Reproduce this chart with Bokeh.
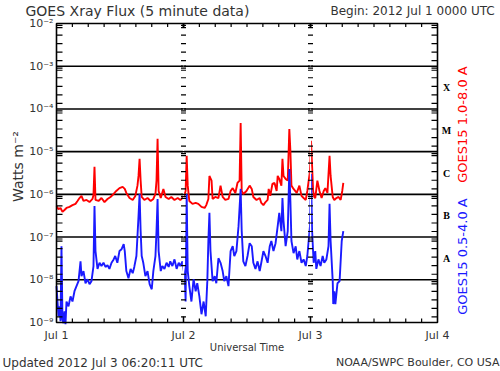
import numpy as np
from bokeh.plotting import figure
from bokeh.models import Label, Range1d
from bokeh.core.properties import value
from bokeh.embed import file_html
from bokeh.resources import INLINE

# ---- data: hours since 2012 Jul 1 00:00 UTC, flux in W m^-2 ----
red_hours = [0.0, 0.38, 0.76, 1.13, 1.51, 1.89, 2.46, 3.02, 3.59, 3.97, 4.35, 4.72, 5.10, 5.67, 6.24, 6.80,
             6.99, 7.18, 7.37, 7.94, 8.50, 9.07, 9.64, 10.2, 10.8, 11.3, 11.9, 12.5, 12.9, 13.2, 13.8, 14.4,
             14.9, 15.3, 15.5, 15.7, 15.9, 16.1, 16.6, 17.2, 17.8, 18.3, 18.7, 18.9, 19.1, 19.3, 19.7, 20.2,
             20.6, 21.2, 21.7, 22.3, 22.9, 23.4, 24.0, 24.4, 24.6, 24.8, 25.1, 25.7, 26.3, 26.8, 27.4, 28.0,
             28.3, 28.7, 28.9, 29.3, 29.5, 30.0, 30.6, 31.0, 31.4, 31.9, 32.5, 32.9, 33.3, 33.8, 34.2, 34.6,
             34.8, 35.0, 35.3, 35.9, 36.5, 36.9, 37.2, 37.8, 38.4, 38.7, 39.1, 39.5, 39.9, 40.1, 40.4, 40.8,
             41.2, 41.6, 41.8, 42.1, 42.5, 42.7, 42.9, 43.3, 43.7, 44.0, 44.2, 44.4, 44.8, 45.4, 45.9, 46.3,
             46.7, 47.1, 47.4, 47.9, 48.1, 48.3, 48.5, 48.7, 48.9, 49.3, 49.7, 50.1, 50.5, 50.8, 51.2, 51.6,
             51.8, 52.2, 52.5, 52.9, 53.3, 53.7, 54.0, 54.2]
red_flux = [5.3e-7, 4.5e-7, 4.8e-7, 3.9e-7, 4.3e-7, 4.8e-7, 5.1e-7, 5.6e-7, 6.0e-7, 7.0e-7, 8.2e-7, 9.2e-7,
            7.0e-7, 7.4e-7, 6.6e-7, 7.8e-7, 9.7e-7, 4.4e-6, 7.4e-7, 7.0e-7, 8.2e-7, 6.6e-7, 7.8e-7, 8.7e-7,
            1.02e-6, 1.2e-6, 1.4e-6, 1.5e-6, 1.34e-6, 1.08e-6, 8.2e-7, 7.4e-7, 9.2e-7, 1.6e-6, 2.7e-6, 6.8e-6,
            2.1e-6, 8.7e-7, 7.4e-7, 8.2e-7, 7.0e-7, 7.8e-7, 1.02e-6, 2.1e-6, 2.0e-5, 1.2e-6, 8.2e-7, 1.34e-6,
            8.7e-7, 7.8e-7, 8.7e-7, 7.4e-7, 8.2e-7, 7.4e-7, 8.7e-7, 1.2e-6, 8.0e-6, 1.6e-6, 7.0e-7, 6.0e-7,
            6.3e-7, 6.0e-7, 5.1e-7, 4.8e-7, 5.6e-7, 7.8e-7, 2.7e-6, 2.1e-6, 7.8e-7, 8.7e-7, 8.2e-7, 1.6e-6,
            8.7e-7, 7.4e-7, 7.8e-7, 1.2e-6, 1.4e-6, 1.08e-6, 1.85e-6, 2.1e-6, 4.7e-5, 1.2e-6, 1.02e-6, 1.2e-6,
            1.6e-6, 1.34e-6, 8.7e-7, 7.4e-7, 8.2e-7, 6.3e-7, 5.6e-7, 6.6e-7, 7.4e-7, 1.34e-6, 9.2e-7, 1.75e-6,
            1.85e-6, 1.2e-6, 2.7e-6, 2.3e-6, 1.6e-6, 6.8e-6, 2.7e-6, 2.3e-6, 2.1e-6, 3.4e-5, 1.04e-5, 1.6e-6,
            1.34e-6, 1.08e-6, 1.6e-6, 9.2e-7, 8.2e-7, 7.4e-7, 1.2e-6, 3.5e-6, 1.8e-5, 4.6e-6, 1.2e-6, 8.7e-7,
            8.2e-7, 2.1e-6, 1.2e-6, 8.2e-7, 1.2e-6, 1.4e-6, 1.08e-6, 8.0e-6, 2.7e-6, 8.7e-7, 7.4e-7, 8.2e-7,
            8.7e-7, 7.4e-7, 1.2e-6, 1.85e-6]

blue_hours = [0.0, 0.19, 0.38, 0.57, 0.76, 0.94, 1.13, 1.32, 1.51, 1.70, 1.89, 2.27, 2.65, 3.02, 3.40, 3.78,
              4.16, 4.54, 4.72, 5.10, 5.48, 5.86, 6.24, 6.61, 6.99, 7.18, 7.37, 7.75, 8.13, 8.50, 8.88, 9.26,
              9.64, 10.0, 10.4, 10.8, 11.1, 11.5, 11.9, 12.3, 12.7, 12.9, 13.2, 13.6, 14.0, 14.4, 14.7, 15.1,
              15.3, 15.5, 15.7, 15.9, 16.1, 16.4, 16.8, 17.2, 17.6, 18.0, 18.3, 18.7, 18.9, 19.1, 19.3, 19.7,
              20.0, 20.4, 20.8, 21.2, 21.5, 21.9, 22.3, 22.7, 23.1, 23.4, 23.8, 24.2, 24.4, 24.6, 24.8, 25.1,
              25.5, 25.9, 26.3, 26.6, 27.0, 27.4, 27.8, 28.2, 28.5, 28.7, 28.9, 29.1, 29.5, 29.9, 30.2, 30.6,
              31.0, 31.4, 31.7, 32.1, 32.5, 32.9, 33.3, 33.6, 34.0, 34.4, 34.8, 35.0, 35.3, 35.7, 36.1, 36.5,
              36.9, 37.2, 37.6, 38.0, 38.4, 38.7, 39.1, 39.5, 39.9, 40.3, 40.6, 41.0, 41.4, 41.8, 42.1, 42.5,
              42.7, 42.9, 43.3, 43.7, 44.0, 44.2, 44.4, 44.8, 45.2, 45.5, 45.9, 46.3, 46.7, 47.1, 47.4, 47.9,
              48.1, 48.3, 48.6, 48.9, 49.1, 49.5, 49.9, 50.3, 50.6, 51.0, 51.4, 51.6, 51.8, 52.2, 52.3, 52.5,
              52.7, 53.1, 53.5, 53.9, 54.2]
blue_flux = [7.1e-9, 3.1e-9, 1.4e-9, 2.4e-9, 1.07e-9, 6.1e-8, 1.19e-9, 9.6e-10, 1.83e-9, 9.1e-10, 3.1e-9, 2.4e-9,
             4.1e-9, 3.1e-9, 5.4e-9, 7.1e-9, 9.3e-9, 2.7e-8, 1.22e-8, 1.6e-8, 8.3e-9, 1.03e-8, 7.9e-9, 9.3e-9,
             2.1e-8, 5.3e-7, 4.7e-8, 1.8e-8, 2.5e-8, 2.1e-8, 2.5e-8, 2.0e-8, 2.2e-8, 1.8e-8, 2.5e-8, 3.0e-8,
             3.6e-8, 2.5e-8, 4.7e-8, 5.2e-8, 6.8e-8, 4.7e-8, 1.6e-8, 1.09e-8, 1.8e-8, 1.43e-8, 2.0e-8, 3.6e-8,
             1.05e-7, 3.1e-7, 1.02e-6, 1.38e-7, 3.6e-8, 2.5e-8, 1.22e-8, 1.6e-8, 7.9e-9, 6.0e-9, 1.6e-8, 3.6e-8,
             1.38e-7, 7.8e-7, 4.7e-8, 1.6e-8, 2.1e-8, 1.8e-8, 2.5e-8, 2.0e-8, 2.7e-8, 2.1e-8, 3.0e-8, 1.8e-8,
             2.5e-8, 2.1e-8, 2.7e-8, 1.22e-8, 3.1e-9, 1.02e-6, 1.6e-8, 7.1e-9, 3.1e-9, 1.03e-8, 5.4e-9, 8.3e-9,
             4.1e-9, 1.56e-9, 3.1e-9, 1.4e-9, 9.3e-9, 8.1e-8, 3.7e-7, 4.7e-8, 9.3e-9, 1.22e-8, 8.3e-9, 3.2e-8,
             2.5e-8, 1.6e-8, 9.3e-9, 1.22e-8, 7.1e-9, 4.7e-8, 6.1e-8, 3.6e-8, 4.7e-8, 1.8e-7, 1.34e-6, 1.38e-7,
             2.7e-8, 2.1e-8, 3.6e-8, 7.2e-8, 6.1e-8, 2.5e-8, 1.8e-8, 2.7e-8, 1.6e-8, 2.5e-8, 4.7e-8, 3.6e-8,
             2.5e-8, 6.1e-8, 8.1e-8, 4.7e-8, 7.2e-8, 1.8e-7, 3.7e-7, 1.38e-7, 8.2e-7, 2.4e-7, 6.1e-8, 1.38e-7,
             3.9e-6, 7.0e-7, 8.1e-8, 4.2e-8, 6.1e-8, 3.0e-8, 4.7e-8, 2.5e-8, 3.0e-8, 2.1e-8, 3.6e-8, 1.8e-7,
             3.0e-6, 1.38e-7, 2.5e-8, 4.7e-8, 1.8e-8, 3.0e-8, 2.1e-8, 3.6e-8, 2.5e-8, 3.0e-8, 6.1e-8, 6.0e-7,
             8.1e-8, 9.3e-9, 2.7e-9, 5.4e-9, 2.7e-9, 8.3e-9, 9.3e-9, 8.1e-8, 1.38e-7]

day_ticks = [0, 24, 48, 72]
day_labels = ["Jul 1", "Jul 2", "Jul 3", "Jul 4"]
decades = [1e-9, 1e-8, 1e-7, 1e-6, 1e-5, 1e-4, 1e-3, 1e-2]
decade_labels = ["10\u207b\u2079", "10\u207b\u2078", "10\u207b\u2077", "10\u207b\u2076",
                 "10\u207b\u2075", "10\u207b\u2074", "10\u207b\u00b3", "10\u207b\u00b2"]
class_letters = ["A", "B", "C", "M", "X"]
class_levels = [1e-8, 1e-7, 1e-6, 1e-5, 1e-4]

title_text = "GOES Xray Flux (5 minute data)"
begin_text = "Begin:  2012 Jul 1 0000 UTC"
updated_text = "Updated 2012 Jul 3 06:20:11 UTC"
source_text = "NOAA/SWPC Boulder, CO USA"
y_title = "Watts m\u207b\u00b2"
x_title = "Universal Time"
red_name = "GOES15 1.0-8.0 A"
blue_name = "GOES15 0.5-4.0 A"

RED = "#ff0000"
BLUE = "#1a1aff"
FONT = "DejaVu Sans"
INK = "#333333"

# ---- layout (pixels of the 500x371 canvas) ----
W, H = 500, 371
FL, FR, FT, FB = 56, 437, 23, 322          # plot box edges
T0, T1 = day_ticks[0], day_ticks[-1]
LOG0, LOG1 = np.log10(decades[0]), np.log10(decades[-1])
HPP = (T1 - T0) / (FR - FL)                # hours per pixel
DPP = (LOG1 - LOG0) / (FB - FT)            # decades per pixel


def X(px):
    return T0 + (px - FL) * HPP


def Y(py):
    return 10 ** (LOG1 - (py - FT) * DPP)


def hx(npx):
    return npx * HPP


def fy(npx):
    return 10 ** (npx * DPP)


minor_fracs = [0.045, 0.095, 0.27, 0.47, 0.67, 0.87]
minor_vals = [d * 10 ** (-f) for d in decades[1:] for f in minor_fracs]
hour_ticks = [h for h in range(T0, T1 + 1, 3) if h % 24]

p = figure(width=W, height=H, x_range=Range1d(X(0), X(W)), y_range=Range1d(Y(H), Y(0)),
           y_axis_type="log", x_axis_location=None, y_axis_location=None,
           output_backend="svg", toolbar_location=None, min_border=0)
p.grid.visible = False
p.outline_line_color = None
p.background_fill_color = "white"
p.border_fill_color = "white"

# decade grid lines
inner = decades[1:-1]
p.segment(x0=[T0] * len(inner), x1=[T1] * len(inner), y0=inner, y1=inner, line_color="black", line_width=1.6)

# data
p.line(red_hours, red_flux, line_color=RED, line_width=1.9)
p.line(blue_hours, blue_flux, line_color=BLUE, line_width=1.9)

# white gaps at the day boundaries
mid_days = day_ticks[1:-1]
p.segment(x0=mid_days, x1=mid_days, y0=[decades[0]] * 2, y1=[decades[-1]] * 2, line_color="white", line_width=1.3)

# short dashes along the day boundaries
dash_y = minor_vals + decades[1:-1]
bx = [d for d in mid_days for _ in dash_y]
by = [v for _ in mid_days for v in dash_y]
p.segment(x0=[b - hx(2.5) for b in bx], x1=[b + hx(2.5) for b in bx], y0=by, y1=by,
          line_color="black", line_width=1.2)

# left / right ticks (inward)
p.segment(x0=[T0] * len(minor_vals), x1=[T0 + hx(6)] * len(minor_vals), y0=minor_vals, y1=minor_vals,
          line_color="black", line_width=1.2)
p.segment(x0=[T1 - hx(6)] * len(minor_vals), x1=[T1] * len(minor_vals), y0=minor_vals, y1=minor_vals,
          line_color="black", line_width=1.2)
# top / bottom ticks (inward)
top, bot = decades[-1], decades[0]
p.segment(x0=hour_ticks, x1=hour_ticks, y0=[top] * len(hour_ticks), y1=[top / fy(3.5)] * len(hour_ticks),
          line_color="black", line_width=1.2)
p.segment(x0=hour_ticks, x1=hour_ticks, y0=[bot] * len(hour_ticks), y1=[bot * fy(4)] * len(hour_ticks),
          line_color="black", line_width=1.2)
p.segment(x0=mid_days, x1=mid_days, y0=[top] * 2, y1=[top / fy(4)] * 2, line_color="black", line_width=2)
p.segment(x0=mid_days, x1=mid_days, y0=[bot] * 2, y1=[bot * fy(6)] * 2, line_color="black", line_width=1.5)

# plot box
p.quad(left=[T0], right=[T1], bottom=[decades[0]], top=[decades[-1]], fill_color=None,
       line_color="black", line_width=1.6)

# tick labels
p.text(x=[X(53)] * len(decades), y=decades, text=decade_labels, text_align="right", text_baseline="middle",
       text_font=value(FONT), text_font_size="11px", text_color=INK)
p.text(x=day_ticks, y=[Y(335)] * len(day_ticks), text=day_labels, text_align="center", text_baseline="middle",
       text_font=value(FONT), text_font_size="11px", text_color=INK)


def lab(**kw):
    base = dict(text_font=FONT, text_color=INK, text_font_size="12px", text_baseline="middle")
    base.update(kw)
    p.add_layout(Label(**base))


lab(x=X(25), y=Y(10), text=title_text, text_align="left", text_font_size="14px")
lab(x=X(498), y=Y(10), text=begin_text, text_align="right")
lab(x=X(17), y=Y(166), text=y_title, angle=np.pi / 2, text_align="center", text_font_size="14px")
lab(x=(T0 + T1) / 2, y=Y(347), text=x_title, text_align="center", text_font_size="10px")
lab(x=X(2), y=Y(362), text=updated_text, text_align="left")
lab(x=X(499), y=Y(362), text=source_text, text_align="right", text_font_size="11px")

for letter, lvl in zip(class_letters, class_levels):
    lab(x=X(446), y=lvl * 10 ** 0.5, text=letter, text_align="center", text_font="Liberation Serif",
        text_font_style="bold", text_font_size="10px", text_color="black")

lab(x=X(462), y=Y(124), text=red_name, angle=np.pi / 2, text_align="center", text_font_size="13px",
    text_color=RED)
lab(x=X(462), y=Y(256), text=blue_name, angle=np.pi / 2, text_align="center", text_font_size="13px",
    text_color=BLUE)

open("out.html", "w").write(file_html(p, INLINE))
